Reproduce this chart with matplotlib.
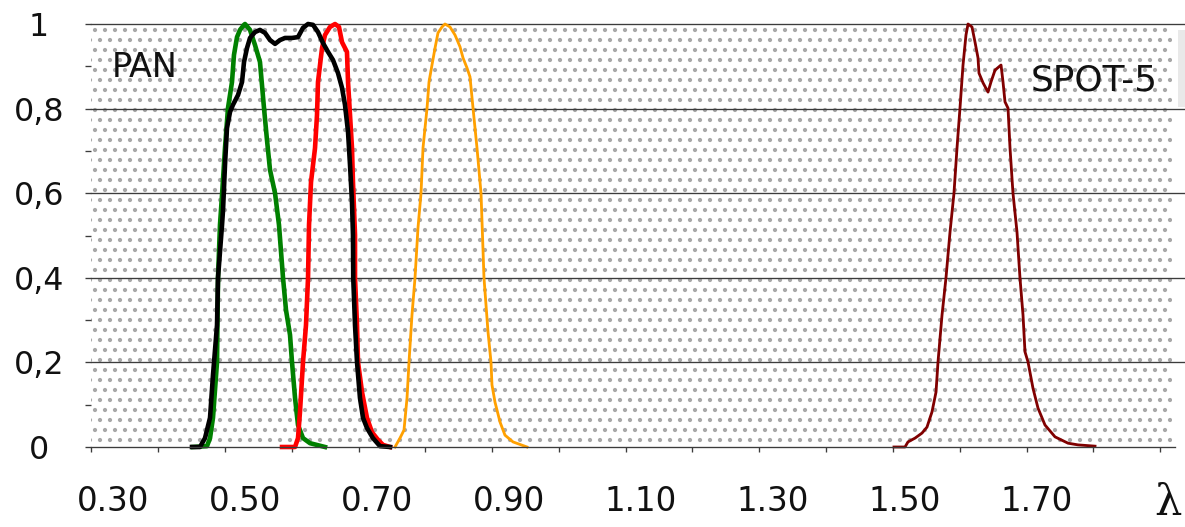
import matplotlib
matplotlib.use("Agg")
import matplotlib.pyplot as plt
from matplotlib.patches import Rectangle
import numpy as np

# ---------------- data (wavelength in micrometres, relative response) -------------
green_wl = [0.4212, 0.4424, 0.4470, 0.4515, 0.4576, 0.4591, 0.4621, 0.4652, 0.4697, 0.4742,
            0.4803, 0.4833, 0.4879, 0.4924, 0.4985, 0.5000, 0.5076, 0.5152, 0.5227, 0.5288,
            0.5333, 0.5379, 0.5455, 0.5515, 0.5576, 0.5621, 0.5682, 0.5712, 0.5758, 0.5803,
            0.5879, 0.5985, 0.6212]
green_val = [0.000, 0.002, 0.021, 0.069, 0.201, 0.400, 0.525, 0.596, 0.707, 0.801,
             0.863, 0.927, 0.969, 0.986, 0.998, 1.000, 0.986, 0.950, 0.910, 0.801,
             0.726, 0.655, 0.600, 0.525, 0.400, 0.324, 0.265, 0.201, 0.116, 0.052,
             0.021, 0.009, 0.000]

red_wl = [0.5561, 0.5758, 0.5803, 0.5833, 0.5879, 0.5924, 0.5955, 0.5970, 0.6000, 0.6061,
          0.6091, 0.6106, 0.6167, 0.6212, 0.6288, 0.6364, 0.6424, 0.6470, 0.6545, 0.6561,
          0.6591, 0.6621, 0.6636, 0.6667, 0.6667, 0.6697, 0.6712, 0.6773, 0.6848, 0.6924,
          0.7015, 0.7091, 0.7197]
red_val = [0.000, 0.000, 0.021, 0.083, 0.201, 0.288, 0.400, 0.525, 0.626, 0.707,
           0.785, 0.863, 0.943, 0.974, 0.993, 1.000, 0.993, 0.957, 0.934, 0.863,
           0.785, 0.707, 0.626, 0.501, 0.400, 0.288, 0.201, 0.130, 0.069, 0.035,
           0.017, 0.005, 0.000]

pan_wl = [0.4197, 0.4318, 0.4394, 0.4470, 0.4515, 0.4576, 0.4591, 0.4652, 0.4667, 0.4697,
          0.4727, 0.4773, 0.4818, 0.4894, 0.4955, 0.4985, 0.5030, 0.5076, 0.5152, 0.5227,
          0.5303, 0.5379, 0.5455, 0.5530, 0.5606, 0.5712, 0.5803, 0.5879, 0.5955, 0.6030,
          0.6106, 0.6182, 0.6258, 0.6333, 0.6409, 0.6470, 0.6515, 0.6561, 0.6591, 0.6621,
          0.6636, 0.6640, 0.6667, 0.6697, 0.6742, 0.6788, 0.6848, 0.6939, 0.7045, 0.7197]
pan_val = [0.000, 0.000, 0.021, 0.069, 0.170, 0.288, 0.400, 0.525, 0.560, 0.667,
           0.754, 0.792, 0.809, 0.832, 0.863, 0.910, 0.943, 0.967, 0.981, 0.986,
           0.979, 0.962, 0.953, 0.962, 0.967, 0.967, 0.969, 0.991, 1.000, 0.998,
           0.981, 0.955, 0.934, 0.915, 0.884, 0.849, 0.809, 0.745, 0.667, 0.579,
           0.501, 0.400, 0.288, 0.201, 0.116, 0.069, 0.045, 0.021, 0.002, 0.000]

nir_wl = [0.7273, 0.7348, 0.7409, 0.7455, 0.7485, 0.7530, 0.7576, 0.7621, 0.7667, 0.7697,
          0.7758, 0.7788, 0.7833, 0.7879, 0.7924, 0.7985, 0.8030, 0.8106, 0.8182, 0.8258,
          0.8303, 0.8364, 0.8409, 0.8455, 0.8515, 0.8576, 0.8621, 0.8682, 0.8727, 0.8742,
          0.8788, 0.8864, 0.8939, 0.9061, 0.9273]
nir_val = [0.000, 0.021, 0.040, 0.116, 0.201, 0.312, 0.400, 0.518, 0.600, 0.707,
           0.801, 0.863, 0.903, 0.943, 0.979, 0.993, 1.000, 0.993, 0.974, 0.946,
           0.920, 0.896, 0.875, 0.801, 0.707, 0.600, 0.400, 0.272, 0.201, 0.147,
           0.106, 0.059, 0.028, 0.012, 0.000]

swir_wl = [1.4833, 1.5000, 1.5045, 1.5152, 1.5258, 1.5333, 1.5409, 1.5470, 1.5500, 1.5561,
           1.5621, 1.5682, 1.5742, 1.5788, 1.5833, 1.5879, 1.5924, 1.5955, 1.6015, 1.6061,
           1.6106, 1.6121, 1.6182, 1.6258, 1.6303, 1.6364, 1.6455, 1.6485, 1.6515, 1.6561,
           1.6591, 1.6636, 1.6697, 1.6742, 1.6788, 1.6818, 1.6864, 1.6939, 1.7015, 1.7121,
           1.7273, 1.7470, 1.7621, 1.7879]
swir_val = [0.000, 0.000, 0.012, 0.021, 0.033, 0.047, 0.083, 0.130, 0.201, 0.312,
            0.400, 0.508, 0.600, 0.707, 0.801, 0.903, 0.974, 1.000, 0.993, 0.957,
            0.920, 0.884, 0.861, 0.839, 0.863, 0.891, 0.903, 0.863, 0.816, 0.801,
            0.707, 0.600, 0.508, 0.400, 0.312, 0.225, 0.201, 0.139, 0.092, 0.052,
            0.024, 0.009, 0.005, 0.002]

x_tick_values = [0.30, 0.50, 0.70, 0.90, 1.10, 1.30, 1.50, 1.70]
x_tick_labels = ["0.30", "0.50", "0.70", "0.90", "1.10", "1.30", "1.50", "1.70"]
y_tick_values = [0, 0.2, 0.4, 0.6, 0.8, 1.0]
y_tick_labels = ["0", "0,2", "0,4", "0,6", "0,8", "1"]

# ---------------- figure ----------------
DPI = 120
W, H = 1185, 527
PT = DPI / 72.0  # px per point
plt.rcParams['font.family'] = ['DejaVu Sans']
plt.rcParams['hatch.linewidth'] = 1.3

fig = plt.figure(figsize=(W / DPI, H / DPI), dpi=DPI)
ax_left, ax_right, ax_top, ax_bot = 91, 1185, 24, 447
ax = fig.add_axes([ax_left / W, (H - ax_bot) / H, (ax_right - ax_left) / W, (ax_bot - ax_top) / H])

def px2wl(px):
    return 0.30 + (px - 113) / 660.0

ax.set_xlim(px2wl(ax_left), px2wl(ax_right))
ax.set_ylim(0, 1)

# dotted background
bg = Rectangle((0, 0), (1172 - ax_left) / (ax_right - ax_left), 1, transform=ax.transAxes,
               facecolor='white', edgecolor='#a8a8a8', hatch='..', lw=0, zorder=0.2)
ax.add_patch(bg)
ax.patch.set_facecolor('white')

grid_c = '#3c3c3c'
for yv in y_tick_values[1:]:
    ax.axhline(yv, color=grid_c, lw=0.8, zorder=0.5, clip_on=False)

# curves
lw_thick = 4.6 / PT
lw_thin = 2.8 / PT
ax.plot(green_wl, green_val, color='#008000', lw=lw_thick, zorder=2, clip_on=False, solid_joinstyle='round')
ax.plot(red_wl, red_val, color='#ff0000', lw=lw_thick, zorder=2.1, clip_on=False, solid_joinstyle='round')
ax.plot(pan_wl, pan_val, color='#000000', lw=lw_thick, zorder=2.2, clip_on=False, solid_joinstyle='round')
ax.plot(nir_wl, nir_val, color='#ffa000', lw=lw_thin, zorder=2, clip_on=False, solid_joinstyle='round')
ax.plot(swir_wl, swir_val, color='#800000', lw=lw_thin, zorder=2, clip_on=False, solid_joinstyle='round')

# spines
for s in ['left', 'right', 'top']:
    ax.spines[s].set_visible(False)
ax.spines['bottom'].set_color(grid_c)
ax.spines['bottom'].set_linewidth(0.8)
ax.spines['bottom'].set_bounds(px2wl(ax_left), px2wl(1175))

# x ticks: labels (no tick mark) + minor tick marks
ax.set_xticks(x_tick_values)
ax.set_xticklabels(x_tick_labels)
minor_x = [px2wl(91.3 + 66.8 * k) for k in range(17)]
ax.set_xticks(minor_x, minor=True)
ax.tick_params(axis='x', which='major', length=0, pad=23, labelsize=19.5, labelcolor='#111111')
ax.tick_params(axis='x', which='minor', length=5 / PT, width=0.8, color=grid_c, direction='out')

# y ticks
ax.set_yticks(y_tick_values)
ax.set_yticklabels(y_tick_labels)
ax.set_yticks([0.1, 0.3, 0.5, 0.7, 0.9], minor=True)
ax.tick_params(axis='y', which='major', length=6 / PT, width=0.8, color=grid_c, pad=52 / PT - 6 / PT,
               labelsize=19, labelcolor='#111111')
ax.tick_params(axis='y', which='minor', length=6 / PT, width=0.8, color=grid_c)
for lab in ax.get_yticklabels():
    lab.set_horizontalalignment('center')

# annotations
ax.text((112 - ax_left) / (ax_right - ax_left), (ax_bot - 77) / (ax_bot - ax_top), "PAN",
        transform=ax.transAxes, ha='left', va='baseline', fontsize=20, color='#111111', zorder=3)
ax.text((1158 - ax_left) / (ax_right - ax_left), (ax_bot - 90) / (ax_bot - ax_top), "SPOT-5",
        transform=ax.transAxes, ha='right', va='baseline', fontsize=21.5, color='#111111', zorder=3)

fig.text(1182 / W, 3 / H, "λ", family=['DejaVu Serif'], fontsize=26, ha='right', va='bottom',
         color='#111111')

# clipped legend box at the right edge
fig.patches.append(Rectangle((1178 / W, (H - 107) / H), 7 / W, 77 / H, transform=fig.transFigure,
                             facecolor='#e9e9e9', edgecolor='none', zorder=5))

fig.savefig("out.png", dpi=DPI)
